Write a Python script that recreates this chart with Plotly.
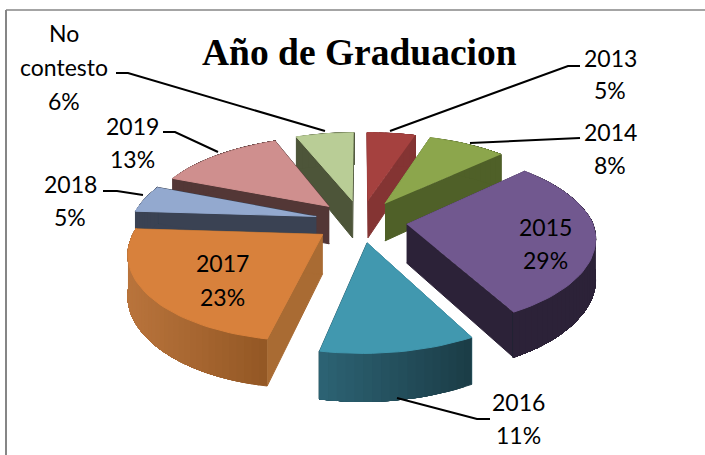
import numpy as np
import plotly.graph_objects as go

categories = ["2013", "2014", "2015", "2016", "2017", "2018", "2019", "No contesto"]
percents = [5, 8, 29, 11, 23, 5, 13, 6]

top_colors = ["#A5413F", "#8CA64C", "#71588F", "#4198AF", "#D8813C", "#93A9CF", "#CF8F8E", "#B9CD96"]
side_colors = ["#843433", "#4F6028", "#2C2238", "#2C6374", "#A96B33", "#3A4253", "#533736", "#4D5539"]
arc_left = ["#843433", "#4F6028", "#2C2238", "#2C6374", "#B9743C", "#3A4253", "#533736", "#4D5539"]
arc_right = ["#843433", "#4F6028", "#2C2238", "#1B3C46", "#935724", "#3A4253", "#533736", "#4D5539"]

# back to front
draw_order = [7, 0, 1, 6, 5, 2, 4, 3]

# pie projection, in page pixels
CX, CY = 361, 221
RX, RY = 185, 85
DEPTH = 38.5
PERSP = 0.16
EXPLODE = 0.25
SKEW = 6  # the front of the pie leans a little to the left

# label anchors (centre x, centre y of each text line)
label_lines = {
    "2013": [(610, 58), (610, 90)],
    "2014": [(610, 132), (610, 165)],
    "2015": [(545, 227), (545, 260)],
    "2016": [(518, 402), (518, 435)],
    "2017": [(222, 263), (222, 297)],
    "2018": [(70, 184), (70, 217)],
    "2019": [(132, 126), (132, 159)],
    "No contesto": [(64, 33), (64, 67), (64, 101)],
}
leaders = [
    ([116, 128, 325], [73, 73, 131]),
    ([580, 568, 390], [66, 66, 131]),
    ([580, 470], [138, 143]),
    ([490, 477, 397], [419, 419, 398]),
    ([163, 175, 218], [132, 132, 152]),
    ([103, 117, 143], [191, 191, 195]),
]


def project(x, y, z=0.0):
    s = 1 / (1 + PERSP * y)
    return CX + RX * x * s + SKEW * np.minimum(y, 0), CY - RY * y * s + z * DEPTH * s


def mix(c1, c2, t):
    a = [int(c1[i:i + 2], 16) for i in (1, 3, 5)]
    b = [int(c2[i:i + 2], 16) for i in (1, 3, 5)]
    return "rgb(%d,%d,%d)" % tuple(round(p + (q - p) * t) for p, q in zip(a, b))


def poly(xs, ys, color):
    return go.Scatter(
        x=list(xs), y=list(ys), mode="lines", fill="toself", fillcolor=color,
        line=dict(color=color, width=1), hoverinfo="skip", showlegend=False,
    )


fig = go.Figure()
edges = np.cumsum([0] + percents) / sum(percents) * 2 * np.pi

for i in draw_order:
    a0, a1 = edges[i], edges[i + 1]
    mid = (a0 + a1) / 2
    ax, ay = EXPLODE * np.sin(mid), EXPLODE * np.cos(mid)
    phi = np.linspace(a0, a1, max(int(np.degrees(a1 - a0) / 2), 6))
    ox, oy = ax + np.sin(phi), ay + np.cos(phi)

    # radial walls
    for k in (0, -1):
        px, py = project(np.array([ax, ox[k], ox[k], ax]), np.array([ay, oy[k], oy[k], ay]), np.array([0, 0, 1, 1]))
        fig.add_trace(poly(px, py, side_colors[i]))

    # outer wall, split so the shading runs across it; each strip runs to
    # the end of the wall and the next one paints over it, which hides seams
    tx, ty = project(ox, oy)
    bx, by = project(ox, oy, 1.0)
    lo, hi = min(tx), max(tx)
    for k in range(len(phi) - 1):
        t = ((tx[k] + tx[k + 1]) / 2 - lo) / (hi - lo)
        fig.add_trace(poly(
            np.r_[tx[k:], bx[k:][::-1]], np.r_[ty[k:], by[k:][::-1]],
            mix(arc_left[i], arc_right[i], t),
        ))

    # top
    cx0, cy0 = project(ax, ay)
    fig.add_trace(poly(np.r_[cx0, tx], np.r_[cy0, ty], top_colors[i]))

for lx, ly in leaders:
    fig.add_trace(go.Scatter(x=lx, y=ly, mode="lines", line=dict(color="#000000", width=2),
                             hoverinfo="skip", showlegend=False))

annotations = [dict(
    x=359, y=52, text="<b>Año de Graduacion</b>", showarrow=False,
    font=dict(family="Liberation Serif", size=37.5, color="#000000"),
)]
for cat, pct in zip(categories, percents):
    texts = cat.split(" ") + [f"{pct}%"]
    for text, (x, y) in zip(texts, label_lines[cat]):
        annotations.append(dict(x=x, y=y, text=text, showarrow=False,
                                font=dict(family="Lato", size=23, color="#000000")))

fig.update_layout(
    width=705,
    height=455,
    margin=dict(l=0, r=0, t=0, b=0),
    paper_bgcolor="white",
    plot_bgcolor="white",
    showlegend=False,
    xaxis=dict(range=[0, 705], visible=False, fixedrange=True),
    yaxis=dict(range=[455, 0], visible=False, fixedrange=True),
    annotations=annotations,
    shapes=[
        dict(type="line", x0=6, y0=10, x1=705, y1=10, line=dict(color="#868686", width=1.5)),
        dict(type="line", x0=6, y0=10, x1=6, y1=455, line=dict(color="#868686", width=2)),
    ],
)

fig.write_html("out.html", config=dict(displayModeBar=False),
               post_script="document.body.style.margin='0';")
